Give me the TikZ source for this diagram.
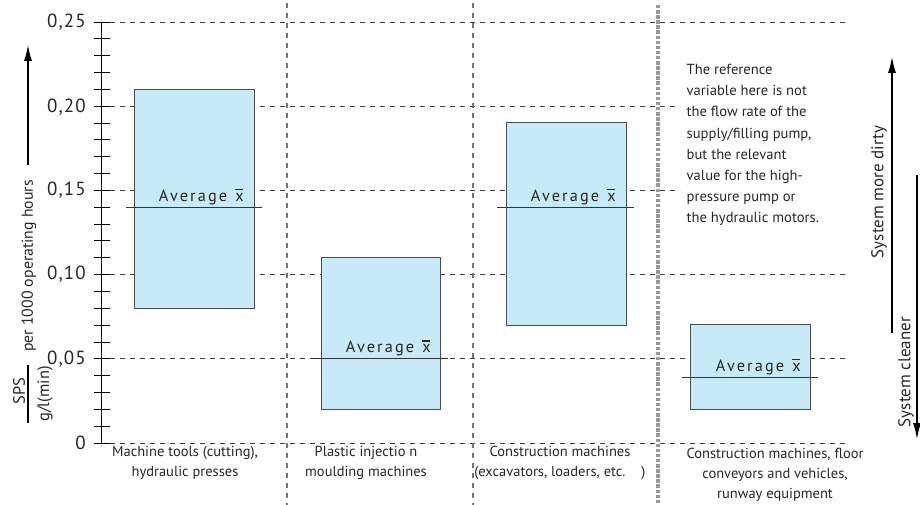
\documentclass[tikz,border=0pt]{standalone}
\usepackage{fontspec}
\setmainfont{PT Sans}
\newfontfamily\avgfont[LetterSpace=13]{PT Sans}
\newfontfamily\tickfont[LetterSpace=6]{PT Sans}
\usetikzlibrary{arrows.meta}
\definecolor{boxfill}{HTML}{C7E9F8}
\newcommand\xbarsym{\leavevmode\rlap{\raisebox{0.68em}{\rule{0.46em}{0.08em}}}x}
\begin{document}
\begin{tikzpicture}[x=1pt,y=-1pt,
  hgrid/.style={draw=black!75, line width=0.9pt, dash pattern=on 5pt off 5pt},
  vgrid/.style={draw=black!55, line width=1.2pt, dash pattern=on 5pt off 5pt},
  sepline/.style={draw=black!40, line width=4pt, dash pattern=on 3.5pt off 1.6pt},
  barbox/.style={draw=black!70, fill=boxfill, line width=1pt},
  avgline/.style={draw=black!80, line width=1pt},
  avglbl/.style={anchor=base east, inner sep=0pt, font=\avgfont\fontsize{16.3}{18}\selectfont, text=black!85},
  catlbl/.style={align=center, inner sep=0pt, font=\fontsize{14.5}{20}\selectfont, text=black!85},
  ticklbl/.style={anchor=east, inner sep=0pt, font=\tickfont\fontsize{19}{20}\selectfont, text=black!85},
  sidelbl/.style={rotate=90, inner sep=0pt, text=black!85},
  arr/.style={line width=1.2pt, -{Latex[length=16pt,width=8pt]}}
]
\useasboundingbox (0,0) rectangle (920,505);

% horizontal grid
\draw[hgrid] (110,22) -- (848,22);
\draw[hgrid] (110,106.8) -- (680,106.8);
\draw[hgrid] (110,190.6) -- (680,190.6);
\draw[hgrid] (110,274.6) -- (848,274.6);
\draw[hgrid] (110,358.8) -- (848,358.8);
\draw[hgrid] (110,443) -- (846,443);

% vertical grid
\draw[vgrid] (287,3) -- (287,505);
\draw[vgrid] (473,3) -- (473,505);
\draw[sepline] (658,5) -- (658,505);

% axis
\draw[line width=1pt] (101.5,22) -- (101.5,443);
\foreach \i in {0,...,25} {
  \draw[line width=0.9pt] (94,443-\i*16.84) -- (110,443-\i*16.84);
}
\node[ticklbl] (t0) at (86,443) {0};
\node[ticklbl] (t5) at (86,358.8) {0,05};
\node[ticklbl] (t10) at (86,274.6) {0,10};
\node[ticklbl] (t15) at (86,190.6) {0,15};
\node[ticklbl] (t20) at (86,106.8) {0,20};
\node[ticklbl] (t25) at (86,22) {0,25};

% boxes
\draw[barbox] (134,89.4) rectangle (254,308.3);
\draw[barbox] (321,257.8) rectangle (440.5,409.3);
\draw[barbox] (506,123) rectangle (626,325);
\draw[barbox] (690.5,324.5) rectangle (810.5,409.3);

% averages
\draw[avgline] (126,207.2) -- (262,207.2);
\draw[avgline] (313,358.8) -- (448,358.8);
\draw[avgline] (497,207.2) -- (634,207.2);
\draw[avgline] (682,377.3) -- (818,377.3);
\node[avglbl] (a1) at (244,201) {Average\hspace{0.5em}\xbarsym};
\node[avglbl] (a2) at (431,352.6) {Average\hspace{0.5em}\xbarsym};
\node[avglbl] (a3) at (616,201) {Average\hspace{0.5em}\xbarsym};
\node[avglbl] (a4) at (801,371) {Average\hspace{0.5em}\xbarsym};

% category labels
\node[catlbl] (c1) at (185,463) {Machine tools (cutting),\\hydraulic presses};
\node[catlbl] (c2) at (366,463) {Plastic injectio n\\moulding machines};
\node[catlbl] (c3) at (560,463) {Construction machines\\(excavators, loaders, etc.\hspace{1.1em})};
\node[catlbl] (c4) at (775,475) {Construction machines, floor\\conveyors and vehicles,\\runway equipment};

% note
\node[anchor=north west, align=left, inner sep=0pt, font=\fontsize{14.6}{21.2}\selectfont, text=black!85] (note) at (686.5,64)
 {The reference\\variable here is not\\the flow rate of the\\supply/filling pump,\\but the relevant\\value for the high-\\pressure pump or\\the hydraulic motors.};

% left axis label
\coordinate (la1) at (28,165);
\coordinate (la2) at (28,45);
\draw[arr] (la1) -- (la2);
\node[sidelbl, font=\fontsize{15.8}{17}\selectfont] (perh) at (29,266) {per 1000 operating hours};
\coordinate (fb1) at (28,365);
\coordinate (fb2) at (28,423);
\draw[line width=1.3pt] (fb1) -- (fb2);
\node[sidelbl, font=\fontsize{16.5}{17}\selectfont] (sps) at (19,391) {SPS};
\node[sidelbl, font=\fontsize{16.5}{17}\selectfont] (gl) at (45,394) {g/l(min)};

% right arrows
\coordinate (ra1) at (892,333);
\coordinate (ra2) at (892,57);
\draw[arr] (ra1) -- (ra2);
\coordinate (rb1) at (917,175);
\coordinate (rb2) at (917,439);
\draw[arr] (rb1) -- (rb2);
\node[sidelbl, font=\fontsize{17}{18}\selectfont] (dirty) at (879,192) {System more dirty};
\node[sidelbl, font=\fontsize{17}{18}\selectfont] (clean) at (906,372) {System cleaner};
\end{tikzpicture}
\end{document}
